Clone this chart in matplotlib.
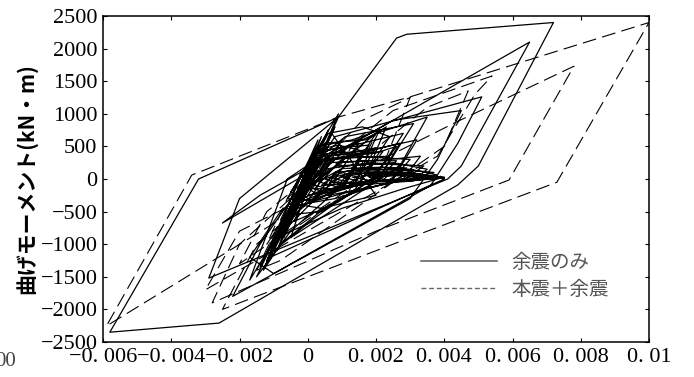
import matplotlib
matplotlib.use('Agg')
import matplotlib.pyplot as plt
from matplotlib.lines import Line2D

plt.rcParams['font.family'] = ['Liberation Serif', 'Noto Sans CJK JP']
plt.rcParams['lines.scale_dashes'] = False

# 余震のみ (aftershock only) - curvature / moment
aftershock_curv = [0.0000, 0.0005, 0.0065, 0.0045, 0.0041, -0.0029, -0.0020, 0.0009, 0.0026, 0.0029,
                   0.0072, 0.0050, 0.0044, -0.0026, -0.0033, -0.0058, -0.0032, 0.0009,
                   0.0002, -0.0025, -0.0014, 0.0025, 0.0045, 0.0038, 0.0030, -0.0022, -0.0014, 0.0008,
                   0.0051, 0.0044, 0.0036, -0.0010, -0.0017, -0.0008, 0.0020, 0.0035, 0.0027, -0.0005,
                   0.0000, -0.0017, -0.0006, 0.0004, -0.0002, 0.0006, -0.0004, 0.0010, 0.0002, -0.0006,
                   0.0003, 0.0015, 0.0008, -0.0009, 0.0001, 0.0009, 0.0000, -0.0012, -0.0002, 0.0012,
                   0.0020, 0.0010, -0.0005, -0.0015, -0.0004, 0.0006, 0.0016, 0.0024, 0.0014, 0.0002,
                   -0.0010, 0.0000, 0.0008, 0.0028, 0.0018, 0.0006, -0.0008, -0.0013, -0.0002, 0.0011,
                   0.0031, 0.0022, 0.0009, -0.0004, 0.0004, 0.0020, 0.0026, 0.0019, 0.0004, -0.0006,
                   0.0002, 0.0014, 0.0030, 0.0024, 0.0008, -0.0003, 0.0005, 0.0018, 0.0034, 0.0028,
                   0.0012, 0.0001, 0.0008, 0.0022, 0.0037, 0.0030, 0.0016, 0.0006, 0.0012, 0.0026,
                   0.0040, 0.0034, 0.0039, 0.0036, 0.0040, 0.0028, 0.0010, -0.0007, 0.0003, 0.0013,
                   0.0021, 0.0014, 0.0003, -0.0005, 0.0005, 0.0017, 0.0023, 0.0017, 0.0005, -0.0002,
                   0.0006, 0.0019, 0.0032, 0.0025, 0.0012, 0.0000, 0.0007, 0.0016, 0.0027, 0.0021,
                   0.0009, 0.0002, 0.0009, 0.0024, 0.0033, 0.0028, 0.0016, 0.0004, 0.0011, 0.0025,
                   0.0035, 0.0031, 0.0018, 0.0007, 0.0014, 0.0030, 0.0038, 0.0033, 0.0021, 0.0017,
                   0.0032, 0.0040, 0.0036, 0.0040, 0.0037, 0.0040,
                   -0.0011, 0.0006, -0.0014, 0.0003, -0.0009, 0.0008, -0.0012, 0.0004, -0.0007, 0.0007,
                   0.0020, 0.0004, -0.0004, 0.0004, 0.0014, 0.0020, 0.0013, 0.0000, -0.0006, 0.0002,
                   0.0010, 0.0018, 0.0011, -0.0001, -0.0005, 0.0003, 0.0009, 0.0016, 0.0010, 0.0001,
                   -0.0003, 0.0004, 0.0012, 0.0022, 0.0015, 0.0003, -0.0002, 0.0005, 0.0015, 0.0024,
                   0.0018, 0.0006, 0.0000, 0.0006, 0.0017, 0.0026, 0.0020, 0.0008, 0.0001, 0.0008,
                   0.0019, 0.0027, 0.0022, 0.0010, 0.0003, 0.0010, 0.0021, 0.0029, 0.0024, 0.0012,
                   0.0005, 0.0012, 0.0023, 0.0031, 0.0026, 0.0014, 0.0007, 0.0014, 0.0025, 0.0033,
                   0.0028, 0.0017, 0.0010, 0.0017, 0.0028, 0.0035, 0.0031, 0.0020, 0.0013, 0.0020,
                   0.0030, 0.0037, 0.0033, 0.0024, 0.0018, 0.0026, 0.0034, 0.0039, 0.0036, 0.0030,
                   0.0035, 0.0040]
aftershock_mom = [0, 300, 2100, 200, 0, -1520, -300, 950, 2160, 2220,
                  2400, 200, -90, -2210, -2240, -2350, 0, 950,
                  150, -675, -250, 900, 1050, 300, -300, -1800, -1000, 650,
                  1260, 550, -100, -1450, -1200, -500, 700, 950, 200, -900,
                  -100, -1550, 0, 350, -250, 500, -450, 600, -200, -700,
                  400, 550, 0, -900, 300, 1000, -100, -1300, -200, 500,
                  700, -100, -800, -1500, -300, 700, 800, 650, -150, -600,
                  -1100, 200, 450, 700, -100, -400, -1000, -1400, 100, 650,
                  850, 100, -350, -650, 300, 400, 500, 0, -500, -550,
                  250, 350, 300, -50, -300, -400, 150, 250, 200, -20,
                  -200, -350, 100, 180, 100, 0, -150, -250, 80, 100,
                  20, -10, 40, 0, 30, -150, -450, -850, 500, 600,
                  750, -50, -300, -500, 550, 600, 800, 50, -200, -350,
                  350, 450, 600, 0, -100, -250, 300, 400, 550, 20,
                  -150, -150, 250, 300, 350, 0, -50, -100, 200, 250,
                  150, -30, -80, -50, 150, 150, 60, -20, -40, 60,
                  80, 10, 40, 20, 50, 0,
                  -1200, 750, -1350, 600, -1100, 800, -1250, 650, -900, 700,
                  -250, -450, -380, 380, 420, 480, -120, -330, -300, 420,
                  480, 520, -80, -280, -200, 450, 520, 430, -150, -350,
                  -150, 350, 380, 420, -60, -250, -60, 300, 330, 350,
                  -30, -220, -120, 250, 280, 280, -40, -180, -80, 200,
                  230, 220, -20, -140, -40, 160, 180, 170, -10, -110,
                  0, 130, 140, 120, 0, -80, 20, 110, 110, 80,
                  0, -60, 30, 90, 80, 50, 0, -40, 30, 70,
                  60, 40, 0, -20, 30, 50, 40, 20, 0, 10,
                  30, 10]

# 本震＋余震 (main shock + aftershock)
both_curv = [0.0000, 0.0008, 0.0002, -0.0012, -0.0006, 0.0016, 0.0030, 0.0022, -0.0020, -0.0012,
             0.0025, 0.0054, 0.0049, 0.0038, -0.0030, -0.0020, 0.0043, 0.0078, 0.0059, 0.0020,
             -0.0028, -0.0020, 0.0012, 0.0005, -0.0059, -0.0034, 0.0009, 0.0030, 0.0100,
             0.0073, 0.0030, -0.0025, -0.0015, 0.0035, 0.0047, 0.0040, -0.0008, -0.0015, -0.0005,
             0.0020, 0.0012, -0.0008, 0.0004, 0.0014, 0.0006, -0.0005, 0.0006, -0.0002, 0.0003]
both_mom = [0, 800, 100, -1000, -300, 900, 1250, 200, -1300, -500,
            1050, 1580, 1300, 350, -1700, -800, 860, 1730, -15, -800,
            -1900, -1000, 500, -200, -2255, 60, 950, 1260, 2400,
            -50, -900, -2000, -1000, 1100, 1350, 500, -1250, -1400, -300,
            700, -200, -900, 200, 600, -100, -600, 400, -200, 100]

series_labels = ['余震のみ', '本震＋余震']
xticks = [-0.006, -0.004, -0.002, 0, 0.002, 0.004, 0.006, 0.008, 0.01]
xtick_labels = ['−0. 006', '−0. 004', '−0. 002', '0', '0. 002', '0. 004', '0. 006', '0. 008', '0. 01']
yticks = [-2500, -2000, -1500, -1000, -500, 0, 500, 1000, 1500, 2000, 2500]
ytick_labels = ['−2500', '−2000', '−1500', '−1000', '−500', '0', '500', '1000', '1500', '2000', '2500']

fig = plt.figure(figsize=(6.94, 3.77), dpi=100)
ax = fig.add_axes([103/694, 1 - 342/377, 546/694, 326/377])

ax.plot(aftershock_curv, aftershock_mom, color='black', lw=0.9)
ax.plot(both_curv, both_mom, color='black', lw=0.8, dashes=(10, 4.5))

ax.set_xlim(-0.006, 0.01)
ax.set_ylim(-2500, 2500)
ax.set_xticks(xticks)
ax.set_xticklabels(xtick_labels)
ax.set_yticks(yticks)
ax.set_yticklabels(ytick_labels)
ax.tick_params(direction='in', length=3, width=0.8, top=True, right=True,
               labelsize=16, pad=4)
for s in ax.spines.values():
    s.set_linewidth(1.1)

ax.set_ylabel('曲げモーメント(kN・m)', family=['Noto Sans CJK JP'], fontweight='bold',
              fontsize=15, labelpad=2)

handles = [Line2D([], [], color='#666666', lw=1.2),
           Line2D([], [], color='#666666', lw=1.0, dashes=(3.5, 2))]
leg = ax.legend(handles, series_labels, loc='upper left', bbox_to_anchor=(0.55, 0.33),
                frameon=False, handlelength=3.9, handletextpad=0.75, labelspacing=0.3,
                prop={'family': ['Noto Sans CJK JP'], 'size': 14})
for t in leg.get_texts():
    t.set_color('#555555')

fig.text(16/694, 1 - 361/377, '00', ha='right', va='center', fontsize=15, color='#444444')

fig.savefig('out.png', dpi=100)
